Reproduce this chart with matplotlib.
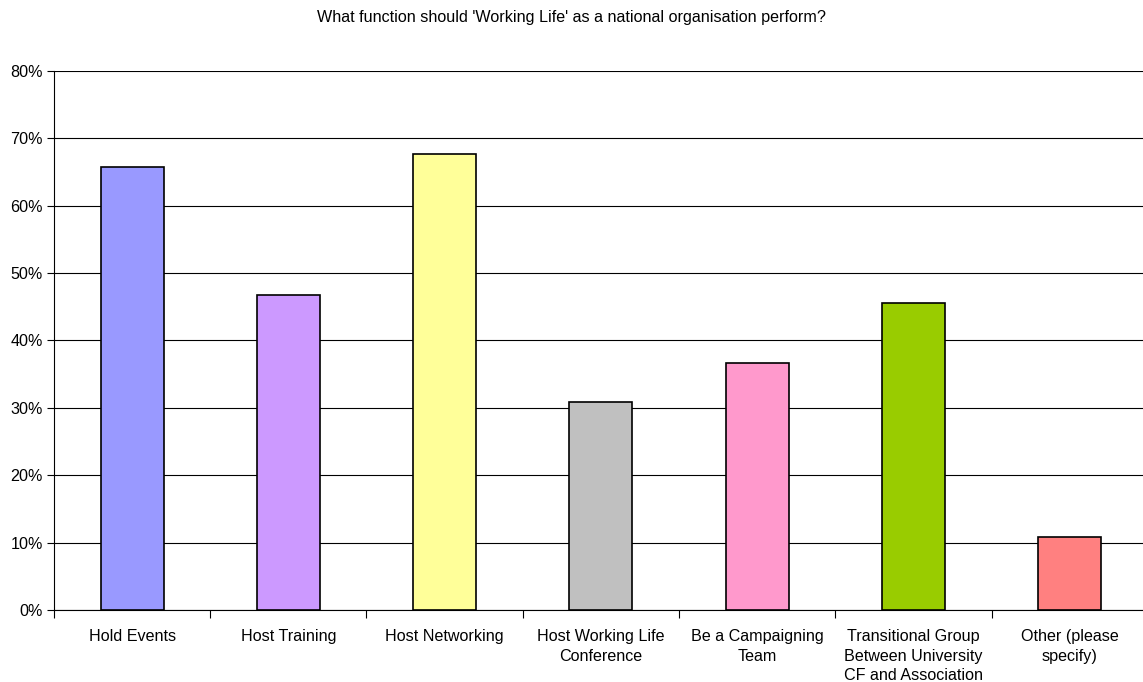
import matplotlib.pyplot as plt
import numpy as np

categories = ['Hold Events', 'Host Training', 'Host Networking',
              'Host Working Life\nConference', 'Be a Campaigning\nTeam',
              'Transitional Group\nBetween University\nCF and Association',
              'Other (please\nspecify)']
values = [65.7, 46.7, 67.7, 30.9, 36.6, 45.5, 10.8]
colors = ['#9999FF', '#CC99FF', '#FFFF99', '#C0C0C0', '#FF99CC', '#99CC00', '#FF8080']
yticks = [0, 10, 20, 30, 40, 50, 60, 70, 80]

plt.rcParams['font.family'] = ['Liberation Sans', 'DejaVu Sans']

fig = plt.figure(figsize=(11.43, 6.82), dpi=100)
ax = fig.add_axes([0.0472, 0.1056, 0.957, 0.7903])

x = np.arange(len(categories))
ax.bar(x, values, width=0.403, color=colors, edgecolor='black', linewidth=1.2, zorder=3)

ax.set_xlim(-0.5, len(categories) - 0.5)
ax.set_ylim(0, 80)
ax.set_yticks(yticks)
ax.set_yticklabels([f'{t}%' for t in yticks], fontsize=11.6)
ax.yaxis.grid(True, color='black', linewidth=0.8, zorder=0)
ax.tick_params(axis='y', length=5, width=0.8, pad=3)

# category labels at centres, tick marks between categories
ax.set_xticks(np.arange(-0.5, len(categories), 1.0))
ax.set_xticklabels([])
ax.tick_params(axis='x', which='major', length=6, width=0.8)
ax.set_xticks(x, minor=True)
ax.set_xticklabels(categories, minor=True, fontsize=11.6, linespacing=1.35, va='top')
ax.tick_params(axis='x', which='minor', length=0, pad=14)

for s in ['top', 'right']:
    ax.spines[s].set_visible(False)
ax.spines['left'].set_linewidth(0.8)
ax.spines['bottom'].set_linewidth(0.8)

fig.text(0.5, 0.974, "What function should 'Working Life' as a national organisation perform?",
         ha='center', va='center', fontsize=11.6)

fig.savefig('out.png', dpi=100)
